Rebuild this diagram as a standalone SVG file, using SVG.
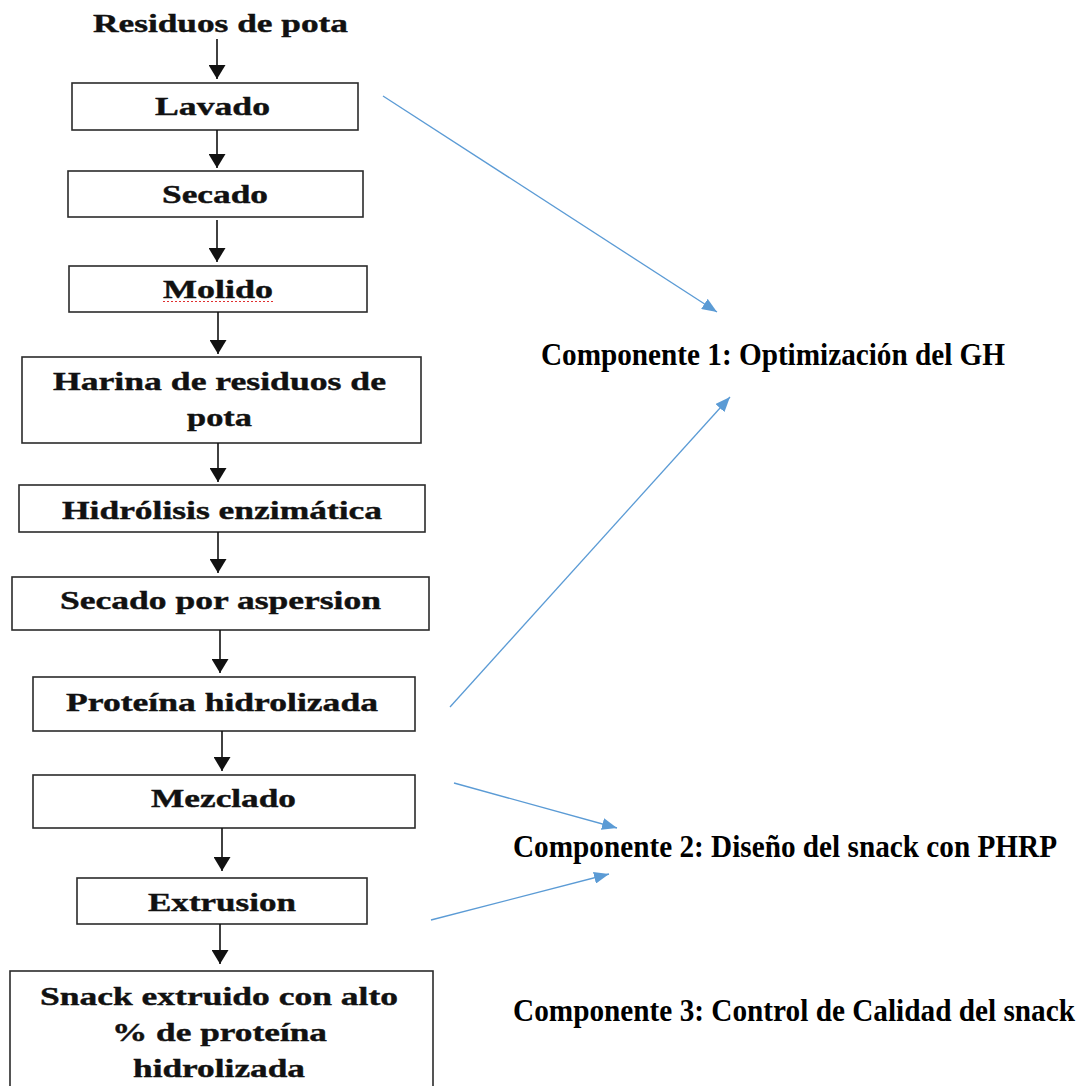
<svg xmlns="http://www.w3.org/2000/svg" width="1085" height="1086" viewBox="0 0 1085 1086">
<defs>
<style>
.box{fill:#fff;stroke:#2b2b2b;stroke-width:1.6}
.t{font-family:"Liberation Serif","Times New Roman",serif;font-weight:bold;font-size:25px;fill:#111;stroke:#111;stroke-width:0.4}
.c{font-family:"Liberation Serif","Times New Roman",serif;font-weight:bold;font-size:32px;fill:#000}
.blk{stroke:#111;stroke-width:1.6;fill:none;marker-end:url(#ab)}
.blu{stroke:#5B9BD5;stroke-width:1.3;fill:none;marker-end:url(#au)}
</style>
<marker id="ab" viewBox="0 0 14 17" refX="14" refY="8.5" markerWidth="14" markerHeight="17" markerUnits="userSpaceOnUse" orient="auto">
<path d="M0,0 L14,8.5 L0,17 z" fill="#111"/>
</marker>
<marker id="au" viewBox="0 0 15 12" refX="15" refY="6" markerWidth="15" markerHeight="12" markerUnits="userSpaceOnUse" orient="auto">
<path d="M0,0 L15,6 L0,12 z" fill="#5B9BD5"/>
</marker>
</defs>
<rect width="1085" height="1086" fill="#fff"/>

<g id="n-residuos"><text class="t" x="93" y="32" textLength="255" lengthAdjust="spacingAndGlyphs">Residuos de pota</text></g>
<g id="n-lavado"><rect class="box" x="72" y="83" width="286" height="47"/><text class="t" x="155" y="115" textLength="115" lengthAdjust="spacingAndGlyphs">Lavado</text></g>
<g id="n-secado"><rect class="box" x="68" y="171" width="295" height="46"/><text class="t" x="162" y="203" textLength="106" lengthAdjust="spacingAndGlyphs">Secado</text></g>
<g id="n-molido"><rect class="box" x="69" y="266" width="298" height="46"/><text class="t" x="163" y="298" textLength="110" lengthAdjust="spacingAndGlyphs">Molido</text><line x1="163" y1="301.5" x2="275" y2="301.5" stroke="#e03030" stroke-width="1.2" stroke-dasharray="2,2"/></g>
<g id="n-harina"><rect class="box" x="22" y="357" width="399" height="86"/><text class="t" x="53" y="390" textLength="333" lengthAdjust="spacingAndGlyphs">Harina de residuos de</text><text class="t" x="187" y="426" textLength="65" lengthAdjust="spacingAndGlyphs">pota</text></g>
<g id="n-hidrolisis"><rect class="box" x="19" y="485" width="406" height="47"/><text class="t" x="62" y="519" textLength="320" lengthAdjust="spacingAndGlyphs">Hidrólisis enzimática</text></g>
<g id="n-aspersion"><rect class="box" x="12" y="577" width="417" height="53"/><text class="t" x="60" y="609" textLength="321" lengthAdjust="spacingAndGlyphs">Secado por aspersion</text></g>
<g id="n-proteina"><rect class="box" x="33" y="677" width="382" height="54"/><text class="t" x="66" y="711" textLength="312" lengthAdjust="spacingAndGlyphs">Proteína hidrolizada</text></g>
<g id="n-mezclado"><rect class="box" x="33" y="775" width="382" height="53"/><text class="t" x="151" y="807" textLength="145" lengthAdjust="spacingAndGlyphs">Mezclado</text></g>
<g id="n-extrusion"><rect class="box" x="77" y="878" width="290" height="46"/><text class="t" x="148" y="911" textLength="148" lengthAdjust="spacingAndGlyphs">Extrusion</text></g>
<g id="n-snack"><rect class="box" x="10" y="971" width="423" height="130"/><text class="t" x="40" y="1005" textLength="358" lengthAdjust="spacingAndGlyphs">Snack extruido con alto</text><text class="t" x="112" y="1041" textLength="215" lengthAdjust="spacingAndGlyphs">% de proteína</text><text class="t" x="133" y="1077" textLength="172" lengthAdjust="spacingAndGlyphs">hidrolizada</text></g>

<g id="n-comp1"><text class="c" x="541" y="365" textLength="464" lengthAdjust="spacingAndGlyphs">Componente 1: Optimización del GH</text></g>
<g id="n-comp2"><text class="c" x="513" y="857" textLength="544" lengthAdjust="spacingAndGlyphs">Componente 2: Diseño del snack con PHRP</text></g>
<g id="n-comp3"><text class="c" x="513" y="1021" textLength="562" lengthAdjust="spacingAndGlyphs">Componente 3: Control de Calidad del snack</text></g>

<g id="connectors">
<line class="blk" x1="217" y1="39" x2="217" y2="79"/>
<line class="blk" x1="217" y1="130" x2="217" y2="168"/>
<line class="blk" x1="217" y1="220" x2="217" y2="262"/>
<line class="blk" x1="218" y1="312" x2="218" y2="354"/>
<line class="blk" x1="218" y1="443" x2="218" y2="482"/>
<line class="blk" x1="218" y1="532" x2="218" y2="573"/>
<line class="blk" x1="220" y1="630" x2="220" y2="673"/>
<line class="blk" x1="222" y1="731" x2="222" y2="771"/>
<line class="blk" x1="222" y1="828" x2="222" y2="871"/>
<line class="blk" x1="220" y1="924" x2="220" y2="964"/>
<line class="blu" x1="383" y1="96" x2="717" y2="312"/>
<line class="blu" x1="450" y1="707" x2="730" y2="397"/>
<line class="blu" x1="454" y1="783" x2="617" y2="828"/>
<line class="blu" x1="431" y1="920" x2="609" y2="874"/>
</g>
</svg>
